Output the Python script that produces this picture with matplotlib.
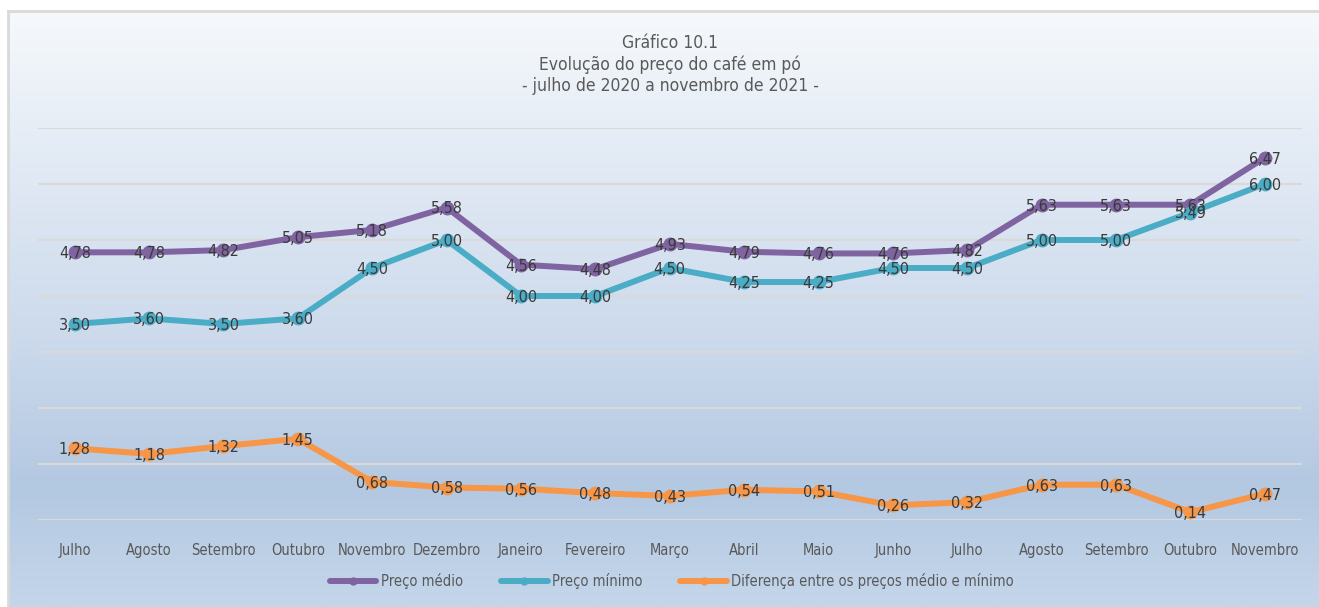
import numpy as np
import matplotlib
matplotlib.use("Agg")
import matplotlib.pyplot as plt
from matplotlib.colors import LinearSegmentedColormap
from matplotlib.lines import Line2D

months = ["Julho", "Agosto", "Setembro", "Outubro", "Novembro", "Dezembro", "Janeiro",
          "Fevereiro", "Março", "Abril", "Maio", "Junho", "Julho", "Agosto", "Setembro",
          "Outubro", "Novembro"]
preco_medio = [4.78, 4.78, 4.82, 5.05, 5.18, 5.58, 4.56, 4.48, 4.93, 4.79, 4.76, 4.76,
               4.82, 5.63, 5.63, 5.63, 6.47]
preco_minimo = [3.50, 3.60, 3.50, 3.60, 4.50, 5.00, 4.00, 4.00, 4.50, 4.25, 4.25, 4.50,
                4.50, 5.00, 5.00, 5.49, 6.00]
diferenca = [1.28, 1.18, 1.32, 1.45, 0.68, 0.58, 0.56, 0.48, 0.43, 0.54, 0.51, 0.26,
             0.32, 0.63, 0.63, 0.14, 0.47]
series_names = ["Preço médio", "Preço mínimo", "Diferença entre os preços médio e mínimo"]
title_lines = ["Gráfico 10.1", "Evolução do preço do café em pó", "- julho de 2020 a novembro de 2021 -"]

colors = ["#8064A2", "#4BACC6", "#F79646"]
text_color = "#3A3A3A"
label_color = "#595959"

plt.rcParams["font.family"] = ["DejaVu Sans"]
plt.rcParams["font.stretch"] = "condensed"

W, H = 1319, 607
fig = plt.figure(figsize=(W / 100, H / 100), dpi=100)

bg = fig.add_axes([0, 0, 1, 1], zorder=-10)
bg.set_xlim(0, W)
bg.set_ylim(H, 0)
bg.axis("off")
cmap = LinearSegmentedColormap.from_list(
    "bgc", [(0.0, "#F6F9FC"), (0.2, "#E6EDF6"), (0.55, "#CCDAEC"),
            (0.8, "#B3C8E1"), (1.0, "#C4D6EA")])
grad = np.linspace(0, 1, 256).reshape(-1, 1)
bg.imshow(grad, cmap=cmap, aspect="auto", extent=[8, W, H, 11], zorder=0)
bg.plot([8, 8], [11, H], color="#D9D9D9", lw=2, zorder=1)
bg.plot([8, W], [11, 11], color="#D9D9D9", lw=2, zorder=1)

left, right, top, bottom = 37.5, 1302, 128, 520
ax = fig.add_axes([left / W, (H - bottom) / H, (right - left) / W, (bottom - top) / H])
ax.patch.set_alpha(0)
x = np.arange(len(months))
ax.set_xlim(-0.5, len(months) - 0.5)
ax.set_ylim(0, 7)
ax.set_yticks(np.arange(0, 8, 1))
ax.yaxis.grid(True, color="#D9D9D9", lw=1.6)
ax.set_axisbelow(True)
ax.tick_params(axis="y", left=False, labelleft=False)
ax.tick_params(axis="x", bottom=False, labelsize=10.5, labelcolor=label_color, pad=13)
ax.set_xticks(x)
ax.set_xticklabels(months)
for s in ax.spines.values():
    s.set_visible(False)

for vals, c, name in zip([preco_medio, preco_minimo, diferenca], colors, series_names):
    ax.plot(x, vals, color=c, lw=4.3, marker="o", ms=9, solid_capstyle="round",
            solid_joinstyle="round", label=name, zorder=3)
    for xi, v in zip(x, vals):
        ax.annotate(f"{v:.2f}".replace(".", ","), (xi, v), xytext=(0, -1),
                    textcoords="offset points", ha="center", va="center",
                    fontsize=11.5, color=text_color, zorder=5)

for i, t in enumerate(title_lines):
    fig.text(670 / W, 1 - (43 + i * 21.5) / H, t, ha="center", va="center",
             fontsize=12.5, color=label_color)

handles = [Line2D([0], [0], color=c, lw=4.3, marker="o", ms=5, solid_capstyle="round")
           for c in colors]
fig.legend(handles, series_names, loc="center", bbox_to_anchor=(672 / W, 1 - 581 / H),
           ncol=3, frameon=False, fontsize=10.5, labelcolor=label_color,
           handlelength=3.2, handletextpad=0.3, columnspacing=2.6)

fig.savefig("out.png", dpi=100)
